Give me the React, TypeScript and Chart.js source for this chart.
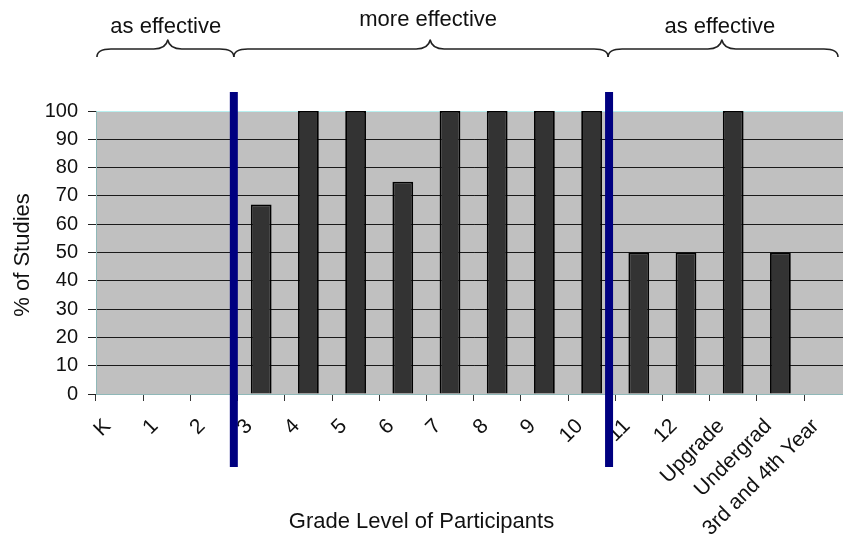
import React, { useEffect, useRef } from 'react';
import { Chart, registerables } from 'chart.js';

Chart.register(...registerables);

// ---- data ----
const categories = ['K', '1', '2', '3', '4', '5', '6', '7', '8', '9', '10', '11', '12', 'Upgrade', 'Undergrad', '3rd and 4th Year'];
const pctStudies = [0, 0, 0, 67, 100, 100, 75, 100, 100, 100, 100, 50, 50, 100, 50, 0];
const yTickValues = [0, 10, 20, 30, 40, 50, 60, 70, 80, 90, 100];
// group dividers, in category units (index of category centre)
const dividerPositions = [2.42, 10.37];
// brace groups, in category units
const braceStarts = [-0.48, 2.42, 10.35];
const braceEnds = [2.42, 10.35, 15.22];
const bracePeaks = [1.02, 6.58, 12.76];
const braceLabels = ['as effective', 'more effective', 'as effective'];
const xTitle = 'Grade Level of Participants';
const yTitle = '% of Studies';

const FAMILY = '"Liberation Sans", Arial, Helvetica, sans-serif';

const annotatePlugin = {
  id: 'annotate',
  beforeDraw(chart: any) {
    const { ctx, chartArea } = chart;
    ctx.save();
    ctx.fillStyle = '#c0c0c0';
    ctx.fillRect(chartArea.left, chartArea.top, chartArea.right - chartArea.left, chartArea.bottom - chartArea.top);
    ctx.restore();
  },
  afterDraw(chart: any) {
    const { ctx, chartArea } = chart;
    const xs = chart.scales.x;
    const top = chartArea.top;
    const bottom = chartArea.bottom;
    ctx.save();

    // blue group dividers
    ctx.fillStyle = '#000080';
    dividerPositions.forEach((v) => {
      const px = xs.getPixelForValue(v);
      ctx.fillRect(px - 4, top - 19, 8, bottom - top + 19 + 73);
    });

    // braces
    const yEnd = top - 54;
    const yMid = top - 62;
    const yPeak = top - 71;
    const textLift = [78, 85, 78];
    ctx.strokeStyle = '#222';
    ctx.lineWidth = 1.6;
    ctx.lineJoin = 'round';
    braceStarts.forEach((s, i) => {
      const xa = s < -0.49 ? chartArea.left : xs.getPixelForValue(s);
      const xb = xs.getPixelForValue(braceEnds[i]);
      const xp = xs.getPixelForValue(bracePeaks[i]);
      const c = 14;
      ctx.beginPath();
      ctx.moveTo(xa, yEnd);
      ctx.quadraticCurveTo(xa, yMid, xa + c, yMid);
      ctx.lineTo(xp - c, yMid);
      ctx.quadraticCurveTo(xp - 2, yMid, xp, yPeak);
      ctx.quadraticCurveTo(xp + 2, yMid, xp + c, yMid);
      ctx.lineTo(xb - c, yMid);
      ctx.quadraticCurveTo(xb, yMid, xb, yEnd);
      ctx.stroke();

      ctx.fillStyle = '#111';
      ctx.font = `22px ${FAMILY}`;
      ctx.textAlign = 'center';
      ctx.textBaseline = 'alphabetic';
      ctx.fillText(braceLabels[i], xp - 2, top - textLift[i]);
    });

    // x title (centred on visible page width)
    ctx.fillStyle = '#111';
    ctx.font = `22px ${FAMILY}`;
    ctx.textAlign = 'center';
    ctx.textBaseline = 'alphabetic';
    ctx.fillText(xTitle, 421.5, chart.height - 7);

    // y title
    ctx.translate(23, (top + bottom) / 2 + 2.5);
    ctx.rotate(-Math.PI / 2);
    ctx.textBaseline = 'middle';
    ctx.fillText(yTitle, 0, 0);
    ctx.restore();
  },
};

export default function App() {
  const ref = useRef<HTMLCanvasElement | null>(null);

  useEffect(() => {
    if (!ref.current) return;
    const chart = new Chart(ref.current, {
      type: 'bar',
      data: {
        labels: categories,
        datasets: [
          {
            data: pctStudies,
            backgroundColor: '#333333',
            borderColor: '#000000',
            borderWidth: 1.8,
            borderSkipped: 'bottom',
            barPercentage: 0.44,
            categoryPercentage: 1,
          },
        ],
      },
      options: {
        responsive: false,
        animation: false,
        devicePixelRatio: 1,
        layout: { padding: { top: 111, left: 0, right: 18.8, bottom: 0 } },
        plugins: { legend: { display: false }, tooltip: { enabled: false } },
        scales: {
          x: {
            type: 'category',
            offset: true,
            grid: {
              display: true,
              offset: true,
              drawOnChartArea: false,
              drawTicks: true,
              tickLength: 7,
              color: '#333',
              tickColor: '#333',
            },
            border: { display: true, color: '#8fb8b8', width: 1 },
            ticks: {
              autoSkip: false,
              minRotation: 45,
              maxRotation: 45,
              padding: 13,
              labelOffset: -12,
              color: '#111',
              font: { size: 21, family: FAMILY },
            },
            afterFit: (s: any) => {
              s.height = 141;
            },
          },
          y: {
            min: 0,
            max: 100,
            afterBuildTicks: (s: any) => {
              s.ticks = yTickValues.map((v) => ({ value: v }));
            },
            ticks: {
              padding: 10,
              color: '#111',
              font: { size: 20, family: FAMILY },
            },
            grid: {
              tickLength: 8,
              lineWidth: 1,
              color: (c: any) => (c.tick && c.tick.value === 100 ? '#b8f0f0' : c.tick && c.tick.value === 0 ? '#8fb8b8' : '#1a1a1a'),
              tickColor: '#222',
            },
            border: { display: true, color: '#8fb8b8', width: 1 },
            afterFit: (s: any) => {
              s.width = 96;
            },
          },
        },
      },
      plugins: [annotatePlugin],
    });
    return () => chart.destroy();
  }, []);

  return (
    <div
      style={{
        position: 'fixed',
        left: 0,
        top: 0,
        width: 843,
        height: 535,
        overflow: 'hidden',
        background: '#ffffff',
      }}
    >
      <canvas ref={ref} width={870} height={535} style={{ display: 'block' }} />
    </div>
  );
}
